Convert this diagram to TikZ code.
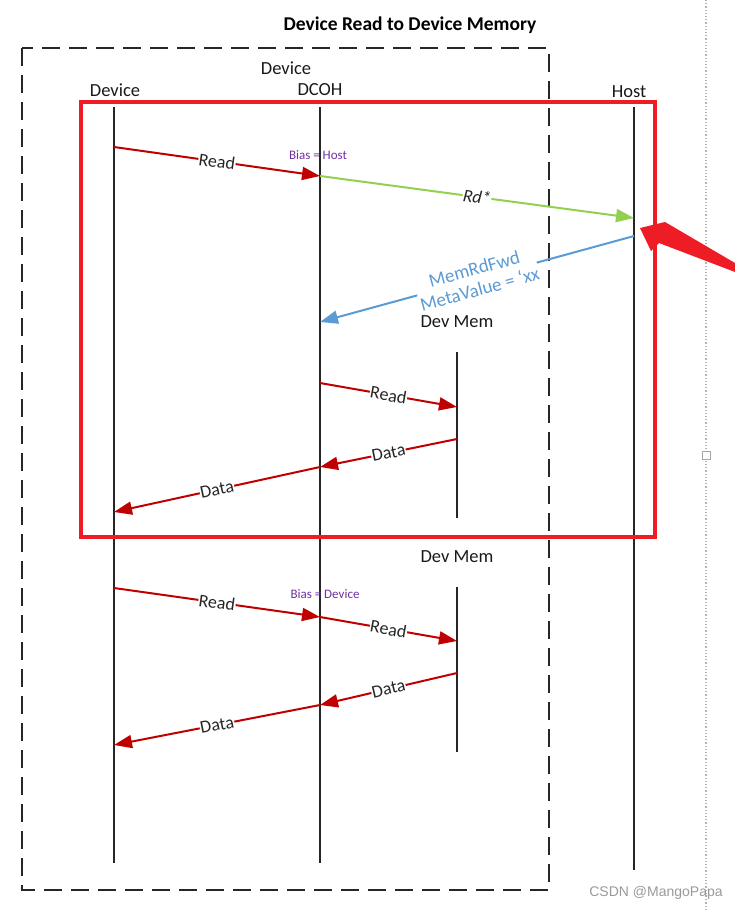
\documentclass[tikz,border=0pt]{standalone}
\usepackage{fontspec}
\setmainfont{Carlito}
\newfontfamily\wmfont{Liberation Sans}
\usetikzlibrary{arrows.meta, positioning}
\definecolor{MsgRed}{HTML}{C00000}
\definecolor{MsgGreen}{HTML}{92D050}
\definecolor{MsgBlue}{HTML}{5B9BD5}
\definecolor{BiasPurple}{HTML}{7030A0}
\definecolor{MarkRed}{HTML}{EE1C25}
\tikzset{
  lifeline/.style={line width=2.4pt, black!85},
  msg/.style={-{Triangle[length=18pt,width=13pt]}, line width=2pt},
  msglabel/.style={sloped, fill=white, inner sep=0.5pt, font=\fontsize{18}{19}\selectfont, text=black!85},
  actor/.style={font=\fontsize{18.5}{20}\selectfont, inner sep=0pt, text=black!90},
  bias/.style={font=\fontsize{13}{14}\selectfont, text=BiasPurple, inner sep=0pt}
}
\begin{document}
\begin{tikzpicture}[x=1pt,y=-1pt]
  \useasboundingbox (0,0) rectangle (735,910);
  % side ruler of the page
  \draw[gray!60, dotted, line width=1.2pt] (706,0) -- (706,910);
  \node[draw=gray!70, fill=white, minimum size=8pt, inner sep=0pt, line width=1pt] (handle) at (706,455) {};
  % title and the Device domain
  \node[font=\bfseries\fontsize{19.5}{21}\selectfont] (Title) at (410,25) {Device Read to Device Memory};
  \draw[dash pattern=on 18pt off 9pt, line width=2.2pt, black!85] (22,48) rectangle (549,890);
  \node[actor] (DomDev) at (286,68) {Device};
  % lifeline heads
  \node[actor] (Dev) at (115,90) {Device};
  \node[actor] (DCOH) at (320,90) {DCOH};
  \node[actor] (Host) at (629,92) {Host};
  \node[actor] (MemA) at (457,322) {Dev Mem};
  \node[actor] (MemB) at (457,557) {Dev Mem};
  % lifelines
  \draw[lifeline] (114,107) coordinate (DevTop) -- (114,863) coordinate (DevEnd);
  \draw[lifeline] (320,107) coordinate (DCOHTop) -- (320,863) coordinate (DCOHEnd);
  \draw[lifeline] (634,107) coordinate (HostTop) -- (634,870) coordinate (HostEnd);
  \draw[lifeline] (457,352) coordinate (MemATop) -- (457,518) coordinate (MemAEnd);
  \draw[lifeline] (457,587) coordinate (MemBTop) -- (457,752) coordinate (MemBEnd);
  % message points
  \coordinate (d1) at (114,147);  \coordinate (c1) at (320,176);
  \coordinate (h1) at (634,218);  \coordinate (h2) at (634,236);
  \coordinate (c2) at (320,322);  \coordinate (c3) at (320,383);
  \coordinate (m1) at (457,407);  \coordinate (m2) at (457,439);
  \coordinate (c4) at (320,467);  \coordinate (d2) at (114,512);
  \coordinate (d3) at (114,588);  \coordinate (c5) at (320,617);
  \coordinate (m3) at (457,641);  \coordinate (m4) at (457,673);
  \coordinate (c6) at (320,705);  \coordinate (d4) at (114,745);
  % bias = host
  \draw[msg, MsgRed] (d1) -- node[msglabel]{Read} (c1);
  \node[bias] (BiasH) at (318,155) {Bias = Host};
  \draw[msg, MsgGreen] (c1) -- node[msglabel]{\itshape Rd*} (h1);
  \draw[msg, MsgBlue] (h2) -- node[msglabel, align=center, text=MsgBlue, font=\fontsize{19}{21}\selectfont]{MemRdFwd\\MetaValue = ‘xx} (c2);
  \draw[msg, MsgRed] (c3) -- node[msglabel]{Read} (m1);
  \draw[msg, MsgRed] (m2) -- node[msglabel]{Data} (c4);
  \draw[msg, MsgRed] (c4) -- node[msglabel]{Data} (d2);
  % bias = device
  \draw[msg, MsgRed] (d3) -- node[msglabel]{Read} (c5);
  \node[bias] (BiasD) at (325,594) {Bias = Device};
  \draw[msg, MsgRed] (c5) -- node[msglabel]{Read} (m3);
  \draw[msg, MsgRed] (m4) -- node[msglabel]{Data} (c6);
  \draw[msg, MsgRed] (c6) -- node[msglabel]{Data} (d4);
  % highlight box and pointer
  \draw[MarkRed, line width=3.5pt] (81,102) rectangle (655,537);
  \fill[MarkRed] (640,228) -- (665,222) -- (735,263) -- (735,272) -- (659,243) -- (651,251) -- cycle;
  % watermark
  \node[font=\wmfont\fontsize{14}{15}\selectfont, text=gray!80] (Mark) at (656,893) {CSDN @MangoPapa};
\end{tikzpicture}
\end{document}
